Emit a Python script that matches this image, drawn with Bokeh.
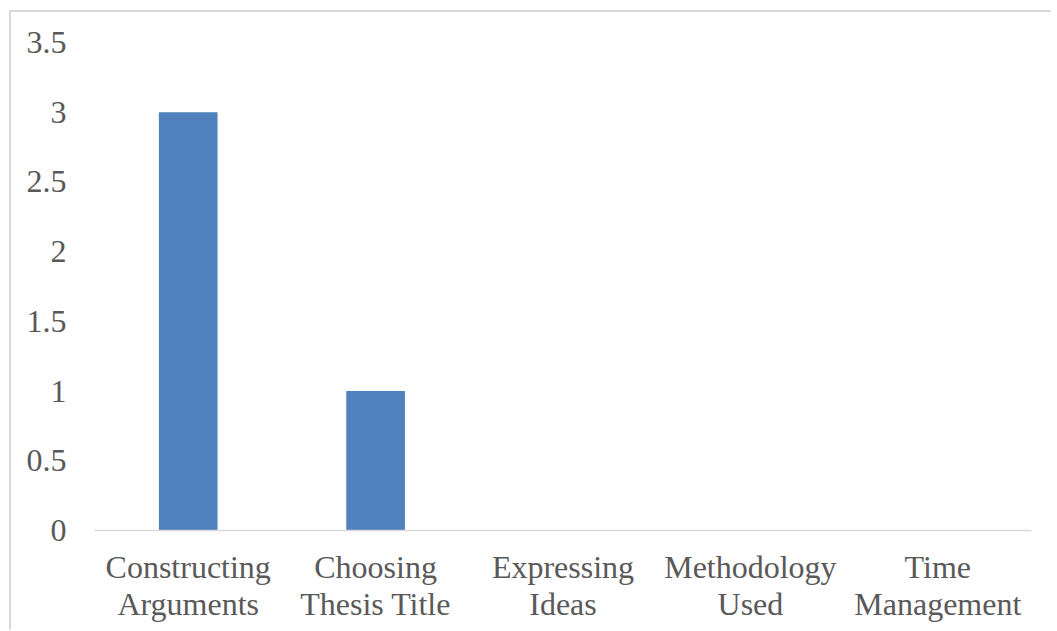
from bokeh.plotting import figure
from bokeh.embed import file_html
from bokeh.resources import INLINE
from bokeh.models import Range1d, FixedTicker, CategoricalAxis, CustomJSTickFormatter

categories = ["Constructing Arguments", "Choosing Thesis Title", "Expressing Ideas",
              "Methodology Used", "Time Management"]
label_line1 = ["Constructing", "Choosing", "Expressing", "Methodology", "Time"]
label_line2 = ["Arguments", "Thesis Title", "Ideas", "Used", "Management"]
values = [3, 1, 0, 0, 0]
y_ticks = [0, 0.5, 1, 1.5, 2, 2.5, 3, 3.5]

FONT = "Liberation Serif"
GRAY = "#595959"
FS = "32px"

p = figure(x_range=categories, y_range=Range1d(0, 3.5),
           frame_width=937, frame_height=488,
           output_backend="svg", toolbar_location=None,
           min_border_left=83, min_border_right=20, min_border_top=30, min_border_bottom=100,
           margin=(10, 0, 0, 9),
           styles={"border-top": "2px solid #d9d9d9", "border-left": "2px solid #d9d9d9"})

p.vbar(x=categories, top=values, width=0.313, color="#4F81BD", line_color=None)

p.outline_line_color = None
p.xgrid.grid_line_color = None
p.ygrid.grid_line_color = None
p.x_range.range_padding = 0

p.yaxis.ticker = FixedTicker(ticks=y_ticks)
p.yaxis.axis_line_color = None
p.yaxis.major_tick_line_color = None
p.yaxis.minor_tick_line_color = None
p.yaxis.major_label_standoff = 22
p.yaxis.major_label_text_font = FONT
p.yaxis.major_label_text_font_size = FS
p.yaxis.major_label_text_color = GRAY

JS = "return labels[tick] ?? tick;"

xa = p.xaxis[0]
xa.formatter = CustomJSTickFormatter(args=dict(labels=dict(zip(categories, label_line1))), code=JS)
xa.axis_line_color = "#d9d9d9"
xa.axis_line_width = 1.5
xa.major_tick_line_color = None
xa.major_label_standoff = 12
xa.major_label_text_font = FONT
xa.major_label_text_font_size = FS
xa.major_label_text_color = GRAY

xb = CategoricalAxis(formatter=CustomJSTickFormatter(args=dict(labels=dict(zip(categories, label_line2))), code=JS))
xb.axis_line_color = None
xb.major_tick_line_color = None
xb.major_label_standoff = -8
xb.major_label_text_font = FONT
xb.major_label_text_font_size = FS
xb.major_label_text_color = GRAY
p.add_layout(xb, "below")

open("out.html", "w").write(file_html(p, INLINE))
